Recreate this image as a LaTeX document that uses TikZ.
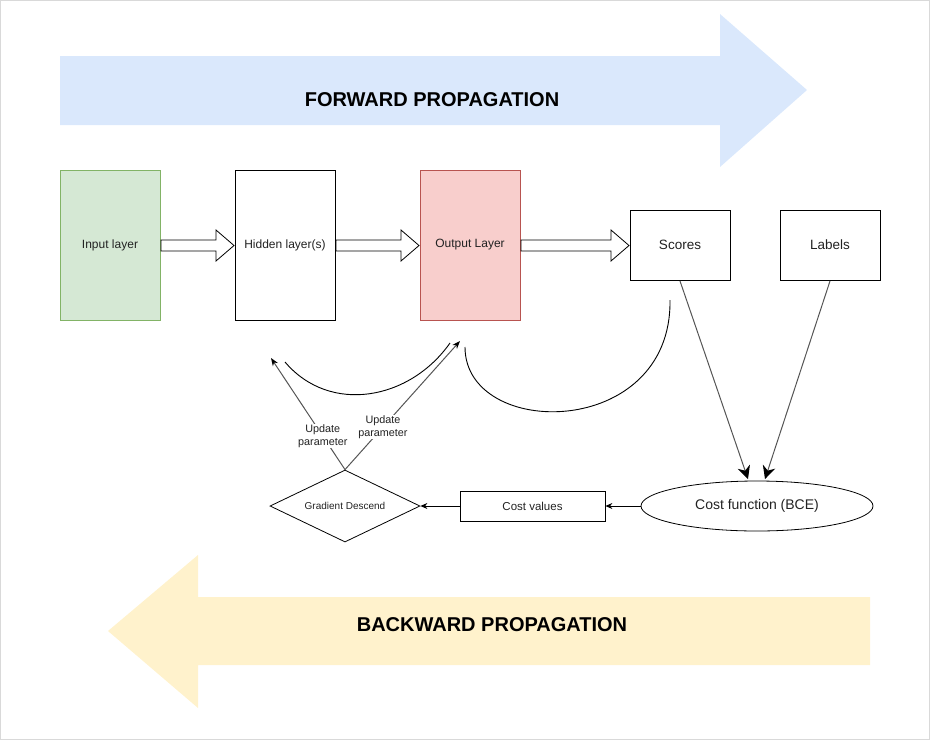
\documentclass[tikz,border=0pt]{standalone}
\usepackage{fontspec}
\setmainfont{Liberation Sans}
\usetikzlibrary{arrows.meta,shapes.geometric}
\definecolor{fwdblue}{HTML}{DAE8FC}
\definecolor{bwdyellow}{HTML}{FFF2CC}
\definecolor{ingreen}{HTML}{D5E8D4}
\definecolor{ingreenline}{HTML}{82B366}
\definecolor{outred}{HTML}{F8CECC}
\definecolor{outredline}{HTML}{B85450}
\definecolor{txt}{HTML}{222222}
\definecolor{linegray}{HTML}{555555}
\tikzset{
  box/.style={draw=black, line width=0.8pt, minimum width=100pt, inner sep=0pt, text=txt},
  layerbox/.style={box, minimum height=150pt, font=\fontsize{12}{14}\selectfont},
  smallbox/.style={box, minimum height=70pt, font=\fontsize{13.5}{16}\selectfont},
  blockarrow/.style={draw=black, fill=white, line width=0.8pt},
  conn/.style={draw=black, line width=0.8pt, -{Stealth[length=7pt,width=6pt]}},
  bigconn/.style={draw=linegray, line width=1pt, -{Stealth[length=13pt,width=13pt,color=black,fill=black]}},
  upd/.style={draw=linegray, line width=1pt, -{Stealth[length=8pt,width=6pt,color=black,fill=black]}},
  updlabel/.style={fill=white, inner sep=1pt, align=center, text=txt, font=\fontsize{10.8}{12.5}\selectfont},
  curve/.style={draw=black, line width=0.9pt},
  title/.style={font=\bfseries\fontsize{20}{24}\selectfont, text=black}
}
\begin{document}
\begin{tikzpicture}[x=1pt,y=-1pt]
\useasboundingbox (0,0) rectangle (930,740);
\draw[draw=black!15, line width=1pt] (0.5,0.5) rectangle (929.5,739.5);
% forward arrow
\fill[fwdblue] (60,56) -- (720,56) -- (720,14) -- (807,90) -- (720,167) -- (720,125) -- (60,125) -- cycle;
\node[title] (fwd) at (432,100) {FORWARD PROPAGATION};
% backward arrow
\fill[bwdyellow] (870,597) -- (198,597) -- (198,555) -- (108,631) -- (198,708) -- (198,665) -- (870,665) -- cycle;
\node[title] (bwd) at (492,625) {BACKWARD PROPAGATION};
% layers
\node[layerbox, fill=ingreen, draw=ingreenline] (in) at (110,245) {Input layer};
\node[layerbox, fill=white] (hid) at (285,245) {Hidden layer(s)};
\node[layerbox, fill=outred, draw=outredline] (out) at (470,245) {Output Layer};
\node[smallbox, fill=white] (sc) at (680,245) {Scores};
\node[smallbox, fill=white] (lab) at (830,245) {Labels};
% block arrows
\foreach \a/\b in {161/234,336/419,521/629}{
  \pgfmathsetmacro{\h}{\b-18}
  \draw[blockarrow] (\a,240) -- (\h,240) -- (\h,230) -- (\b,245.5) -- (\h,261) -- (\h,251) -- (\a,251) -- cycle;
}
% cost function etc
\node[ellipse, draw=black, line width=0.8pt, minimum width=232pt, minimum height=50pt, inner sep=0pt, text=txt, font=\fontsize{14}{16}\selectfont] (cf) at (757,506) {Cost function (BCE)};
\node[box, minimum width=145pt, minimum height=30pt, font=\fontsize{11.5}{13}\selectfont] (cv) at (532.5,506) {Cost values};
\node[diamond, draw=black, line width=0.8pt, aspect=2.08, minimum width=150pt, minimum height=72pt, inner sep=0pt, text=txt, font=\fontsize{10}{12}\selectfont] (gd) at (345,506) {Gradient Descend};
\draw[conn] (cf.west) -- (cv.east);
\draw[conn] (cv.west) -- (gd.east);
% scores/labels to cost function
\coordinate (scb) at (680,281);
\coordinate (labb) at (830,281);
\coordinate (cfa) at (748,479);
\coordinate (cfb) at (765,479);
\draw[bigconn] (scb) -- (cfa);
\draw[bigconn] (labb) -- (cfb);
% curves
\coordinate (c1s) at (285,362);
\coordinate (c1e) at (450,343);
\draw[curve] (c1s) .. controls (330,415) and (410,400) .. (c1e);
\coordinate (c2s) at (465,347);
\coordinate (c2e) at (670,300);
\draw[curve] (c2s) .. controls (465,440) and (672,440) .. (c2e);
% update parameter arrows
\coordinate (u1) at (271,358);
\coordinate (u2) at (460,341);
\draw[upd] (gd.north) -- node[updlabel, pos=0.3] (ul1) {Update\\parameter} (u1);
\draw[upd] (gd.north) -- node[updlabel, pos=0.33] (ul2) {Update\\parameter} (u2);
\end{tikzpicture}
\end{document}
